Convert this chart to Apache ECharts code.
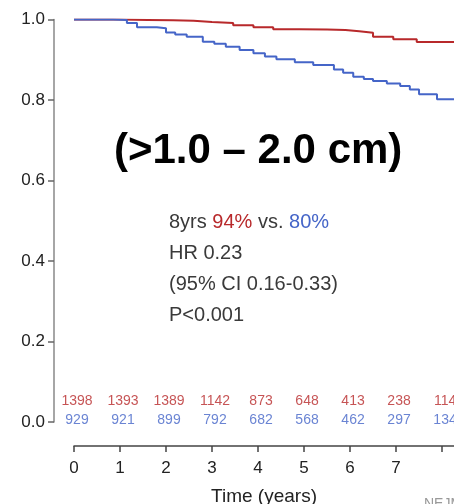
<!DOCTYPE html>
<html>
<head>
<meta charset="utf-8">
<script src="https://cdn.jsdelivr.net/npm/echarts@6/dist/echarts.min.js"></script>
<style>
  html, body { margin: 0; padding: 0; background: #fff; }
  #chart { width: 454px; height: 504px; }
</style>
</head>
<body>
<div id="chart"></div>
<script>
// survival curves (time in years, probability)
const redTime = [0, 0.5, 1.0, 1.6, 2.15, 2.6, 3.0, 3.46, 3.9, 4.33, 4.9, 5.5, 5.9, 6.2, 6.5, 6.94, 7.45, 8.26];
const redSurv = [1.0, 1.0, 0.999, 0.998, 0.997, 0.994, 0.991, 0.986, 0.981, 0.976, 0.975, 0.974, 0.971, 0.967, 0.957, 0.951, 0.944, 0.944];

const blueTime = [0, 0.5, 0.85, 1.15, 1.37, 1.8, 2.0, 2.2, 2.45, 2.8, 3.05, 3.3, 3.6, 3.9, 4.15, 4.4, 4.8, 5.2, 5.65, 5.85, 6.07, 6.3, 6.5, 6.8, 7.09, 7.3, 7.5, 7.89, 8.26];
const blueSurv = [1.0, 1.0, 0.999, 0.991, 0.981, 0.978, 0.968, 0.963, 0.957, 0.945, 0.94, 0.932, 0.924, 0.916, 0.908, 0.901, 0.894, 0.887, 0.876, 0.868, 0.858, 0.852, 0.847, 0.841, 0.835, 0.826, 0.814, 0.802, 0.802];

// numbers at risk
const riskYears = [0, 1, 2, 3, 4, 5, 6, 7, 8];
const riskRed = [1398, 1393, 1389, 1142, 873, 648, 413, 238, 114];
const riskBlue = [929, 921, 899, 792, 682, 568, 462, 297, 134];

const xTickLabels = ["0", "1", "2", "3", "4", "5", "6", "7", ""];

const red = "#b8292b";
const blue = "#4565c8";
const font = "Liberation Sans, Arial, sans-serif";

const chart = echarts.init(document.getElementById("chart"));

const pairs = (xs, ys) => xs.map((x, i) => [x, ys[i]]);

chart.setOption({
  animation: false,
  grid: { left: 74, right: 0, top: 19.5, bottom: 82, outerBoundsMode: "none", containLabel: false },
  xAxis: {
    type: "value",
    min: 0,
    max: 8.26,
    interval: 1,
    offset: 24,
    name: "Time (years)",
    nameLocation: "middle",
    nameGap: 41,
    nameTextStyle: { color: "#222", fontSize: 19, fontFamily: font },
    axisLine: { onZero: false, lineStyle: { color: "#444", width: 1.5 } },
    axisTick: { length: 6, lineStyle: { color: "#444", width: 1.5 } },
    axisLabel: {
      color: "#222",
      fontSize: 17,
      fontFamily: font,
      margin: 14,
      showMaxLabel: false,
      formatter: (v) => xTickLabels[Math.round(v)] ?? "",
    },
    splitLine: { show: false },
  },
  yAxis: {
    type: "value",
    min: 0,
    max: 1,
    interval: 0.2,
    offset: 20,
    axisLine: { show: true, onZero: false, lineStyle: { color: "#888", width: 1.5 } },
    axisTick: { show: true, length: 6, lineStyle: { color: "#666", width: 1.5 } },
    axisLabel: {
      color: "#222",
      fontSize: 17,
      fontFamily: font,
      margin: 9,
      formatter: (v) => v.toFixed(1),
    },
    splitLine: { show: false },
  },
  series: [
    {
      type: "line",
      step: "end",
      data: pairs(redTime, redSurv),
      showSymbol: false,
      lineStyle: { color: red, width: 2 },
    },
    {
      type: "line",
      step: "end",
      data: pairs(blueTime, blueSurv),
      showSymbol: false,
      lineStyle: { color: blue, width: 2 },
    },
    {
      type: "scatter",
      symbolSize: 0,
      data: riskYears.map((t, i) => [t, 0, riskRed[i]]),
      label: {
        show: true,
        position: "inside",
        offset: [3, -21],
        color: red,
        fontSize: 14,
        fontFamily: font,
        formatter: (p) => String(p.value[2]),
      },
    },
    {
      type: "scatter",
      symbolSize: 0,
      data: riskYears.map((t, i) => [t, 0, riskBlue[i]]),
      label: {
        show: true,
        position: "inside",
        offset: [3, -2],
        color: blue,
        fontSize: 14,
        fontFamily: font,
        formatter: (p) => String(p.value[2]),
      },
    },
  ],
  graphic: [
    {
      type: "text",
      left: 114,
      top: 130,
      style: {
        text: "(>1.0 – 2.0 cm)",
        fill: "#000",
        font: "bold 42px Liberation Sans, Arial, sans-serif",
      },
    },
    {
      type: "text",
      left: 169,
      top: 212,
      style: {
        text: "{d|8yrs }{r|94%}{d| vs. }{b|80%}\n{d|HR 0.23}\n{d|(95% CI 0.16-0.33)}\n{d|P<0.001}",
        rich: {
          d: { fill: "#3a3a3a", fontSize: 20, fontFamily: font, lineHeight: 31 },
          r: { fill: red, fontSize: 20, fontFamily: font, lineHeight: 31 },
          b: { fill: blue, fontSize: 20, fontFamily: font, lineHeight: 31 },
        },
      },
    },
    {
      type: "text",
      left: 424,
      top: 497,
      style: { text: "NEJM", fill: "#999", font: "14px Liberation Sans, Arial, sans-serif" },
    },
  ],
});
</script>
</body>
</html>
